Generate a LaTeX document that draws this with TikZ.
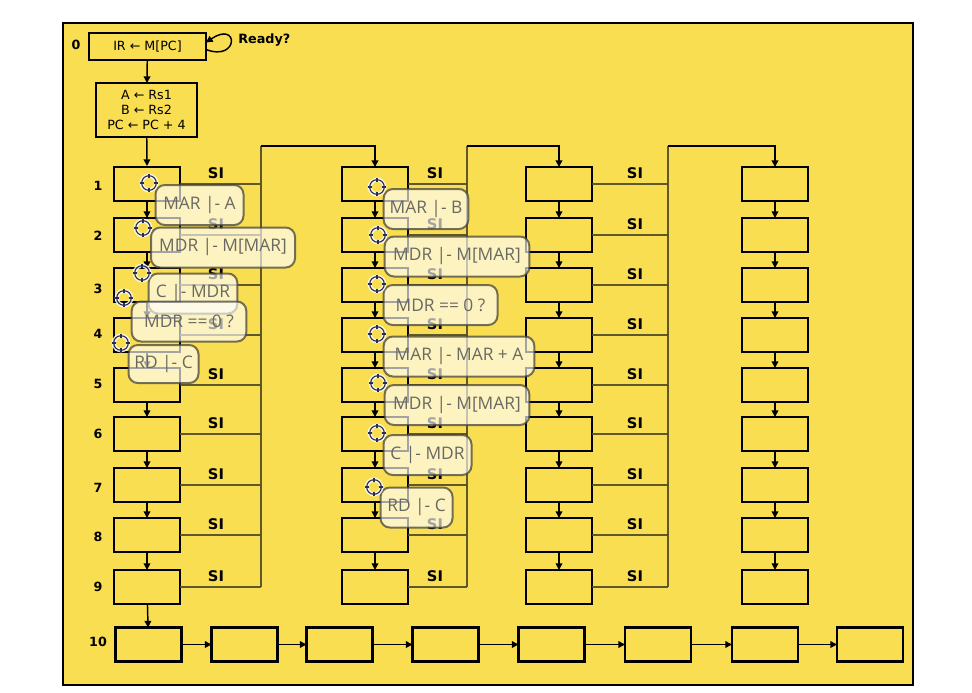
\documentclass[tikz,border=0pt]{standalone}
\usepackage{fontspec}
\setmainfont{DejaVu Sans}
\newfontfamily\bubfont{Open Sans}
\usetikzlibrary{arrows.meta,calc}
\definecolor{yel}{RGB}{250,222,82}
\definecolor{siline}{RGB}{80,74,42}
\definecolor{bubtext}{RGB}{105,105,100}
\definecolor{bubedge}{RGB}{70,68,60}
\definecolor{navy}{RGB}{40,45,85}
\begin{document}
\begin{tikzpicture}[x=0.75pt,y=-0.75pt,
  st/.style={draw=black,line width=2pt,minimum width=49.5pt,minimum height=25.5pt,inner sep=0pt,outer sep=0pt},
  arr/.style={draw=black,line width=1.1pt,-{Triangle[length=5pt,width=5pt]}},
  si/.style={draw=siline,line width=1.1pt,draw opacity=0.9},
  topline/.style={draw=black,line width=1.5pt,-{Triangle[length=5pt,width=5pt]}},
  silab/.style={font=\bfseries\fontsize{11}{13}\selectfont,inner sep=0pt},
  rowlab/.style={font=\bfseries\fontsize{9.5}{11}\selectfont,inner sep=0pt},
  bub/.style={rounded corners=7pt,draw=bubedge,draw opacity=0.75,line width=1.5pt,fill=white,fill opacity=0.64,text opacity=1,text=bubtext,font=\bubfont\fontsize{13}{15}\selectfont,minimum height=30pt,inner sep=0pt},
  tgt/.pic={
    \draw[white,line width=3pt,opacity=0.85] (0,0) circle[radius=5.5pt];
    \draw[navy,line width=0.9pt] (0,0) circle[radius=5.5pt];
    \foreach \a in {0,90,180,270} \draw[navy,line width=1.1pt] (\a:4pt) -- (\a:7pt);
  }]
\useasboundingbox (0,0) rectangle (972,693);
\fill[white] (0,0) rectangle (972,693);
\draw[line width=2pt,fill=yel] (63,23) rectangle (913,685);

% state 0 and decode
\node[st,minimum width=87.75pt,minimum height=20.25pt,font=\fontsize{9.5}{11}\selectfont] (b0) at (147.5,46.5) {IR ← M[PC]};
\node[st,minimum width=75.75pt,minimum height=40.5pt,align=center,font=\fontsize{9.5}{11.25}\selectfont] (bA) at (146.5,110) {A ← Rs1\\B ← Rs2\\PC ← PC + 4};
\node[rowlab] (l0) at (76,45) {0};
\node[font=\bfseries\fontsize{9.6}{11}\selectfont,inner sep=0pt,anchor=west] (ready) at (238,40) {Ready?};
\draw[arr] ($(b0.east)+(0,3)$) .. controls (239,62) and (239,20) .. ($(b0.east)+(0,-4)$);
\draw[arr] (b0) -- (bA);
\draw[arr] (bA) -- (147,166) coordinate (c1top);

% columns of states
\foreach \c/\x in {1/147,2/375,3/559,4/775} {
  \foreach \r/\y in {1/184,2/235,3/285,4/335,5/385,6/434,7/485,8/535,9/587} {
    \node[st] (n\c\r) at (\x,\y) {};
  }
  \foreach \r [evaluate=\r as \n using int(\r+1)] in {1,...,8} {
    \draw[arr] (n\c\r) -- (n\c\n);
  }
}

% row labels
\foreach \r/\y in {1/186,2/236,3/289,4/334,5/384,6/434,7/488,8/537,9/587} {
  \node[rowlab] (lab\r) at (98,\y) {\r};
}
\node[rowlab] (lab10) at (98,642) {10};

% SI buses
\foreach \c/\bx/\sx in {1/261/216,2/467/435,3/668/635} {
  \coordinate (bus\c) at (\bx,146);
  \foreach \r in {1,...,9} {
    \draw[si] (n\c\r.east) -- (n\c\r.east -| bus\c);
    \node[silab] (si\c\r) at ($(n\c\r.east -| \sx,0)+(0,-11)$) {SI};
  }
  \draw[si] (bus\c) -- (bus\c |- n\c9.east);
}
\draw[topline] (bus1) -| (n21.north);
\draw[topline] (bus2) -| (n31.north);
\draw[topline] (bus3) -| (n41.north);

% row 10
\foreach \i/\x in {1/148.5,2/244.5,3/339.5,4/445.5,5/551.5,6/658,7/765,8/870} {
  \node[st] (m\i) at (\x,644.5) {};
}
\foreach \i [evaluate=\i as \j using int(\i+1)] in {1,...,7} {
  \draw[arr] (m\i) -- (m\j);
}
\draw[arr] (n19) -- (m1);

% annotation bubbles, column 1
\node[bub,minimum width=66pt] (a1) at (199.5,205) {MAR |- A};
\node[bub,minimum width=108pt] (a2) at (223,247.5) {MDR |- M[MAR]};
\node[bub,minimum width=66.5pt] (a3) at (193,293.5) {C |- MDR};
\node[bub,minimum width=86pt] (a4) at (189,321.5) {MDR == 0 ?};
\node[bub,minimum width=52.5pt,minimum height=28.5pt] (a5) at (163.5,364) {RD |- C};
% annotation bubbles, column 2
\node[bub,minimum width=63.5pt] (b1) at (426,209) {MAR |- B};
\node[bub,minimum width=108.5pt] (b2) at (457,256.5) {MDR |- M[MAR]};
\node[bub,minimum width=85.5pt] (b3) at (440.5,305) {MDR == 0 ?};
\node[bub,minimum width=113pt] (b4) at (459,356.5) {MAR |- MAR + A};
\node[bub,minimum width=108.5pt] (b5) at (457,405) {MDR |- M[MAR]};
\node[bub,minimum width=66pt] (b6) at (427.5,455) {C |- MDR};
\node[bub,minimum width=54pt] (b7) at (416.5,507.5) {RD |- C};

% target markers
\foreach \p in {(149,183),(143,228),(142,273),(124,298),(121,343),
                (377,187),(378,235),(377,284),(377,334),(378,383),(377,433),(374,487)} {
  \pic at \p {tgt};
}
\end{tikzpicture}
\end{document}
